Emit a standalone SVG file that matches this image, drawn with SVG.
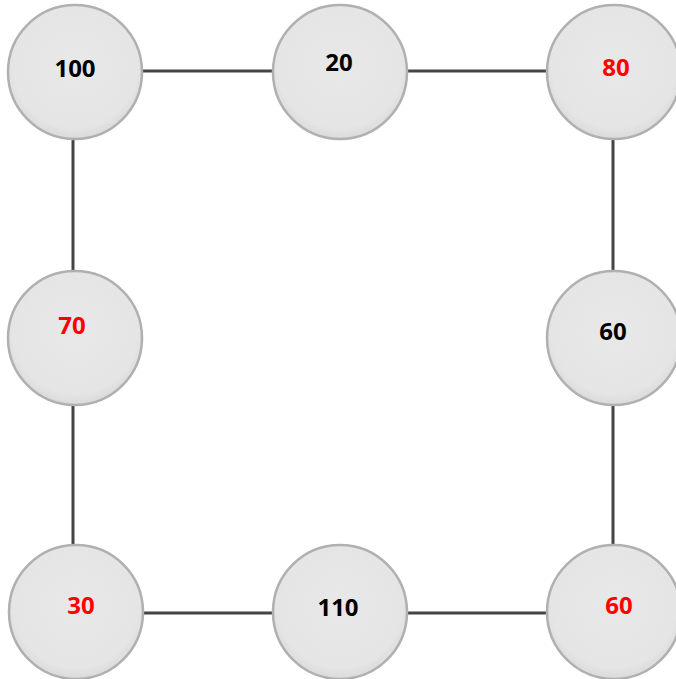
<svg xmlns="http://www.w3.org/2000/svg" width="676" height="679" viewBox="0 0 676 679">
<style>
.n{fill:url(#g);stroke:#b0b0b0;stroke-width:2.5}
.c{stroke:#444;stroke-width:3;fill:none}
.t{font-family:"Open Sans","Liberation Sans",sans-serif;font-weight:bold;font-size:24px;text-anchor:middle}
.k{fill:#000}
.r{fill:#ff0000}
</style>
<defs>
<radialGradient id="g" cx="50%" cy="45%" r="55%">
<stop offset="0%" stop-color="#e8e8e8"/>
<stop offset="85%" stop-color="#e5e5e5"/>
<stop offset="100%" stop-color="#dadada"/>
</radialGradient>
</defs>
<rect width="676" height="679" fill="#fff"/>
<g id="connectors">
<line class="c" x1="75" y1="71" x2="340" y2="71"/>
<line class="c" x1="340" y1="71" x2="614" y2="71"/>
<line class="c" x1="73" y1="72" x2="73" y2="338"/>
<line class="c" x1="73" y1="338" x2="73" y2="612"/>
<line class="c" x1="613" y1="72" x2="613" y2="338"/>
<line class="c" x1="613" y1="338" x2="613" y2="612"/>
<line class="c" x1="76" y1="613" x2="340" y2="613"/>
<line class="c" x1="340" y1="613" x2="614" y2="613"/>
</g>
<g id="n100"><circle class="n" cx="75" cy="72" r="67"/><text class="t k" x="75" y="77">100</text></g>
<g id="n20"><circle class="n" cx="340" cy="72" r="67"/><text class="t k" x="339" y="71">20</text></g>
<g id="n80"><circle class="n" cx="614" cy="72" r="67"/><text class="t r" x="616" y="76">80</text></g>
<g id="n70"><circle class="n" cx="75" cy="338" r="67"/><text class="t r" x="72" y="334">70</text></g>
<g id="n60a"><circle class="n" cx="614" cy="338" r="67"/><text class="t k" x="613" y="340">60</text></g>
<g id="n30"><circle class="n" cx="76" cy="612" r="67"/><text class="t r" x="81" y="614">30</text></g>
<g id="n110"><circle class="n" cx="340" cy="612" r="67"/><text class="t k" x="338" y="616">110</text></g>
<g id="n60b"><circle class="n" cx="614" cy="612" r="67"/><text class="t r" x="619" y="614">60</text></g>
</svg>
